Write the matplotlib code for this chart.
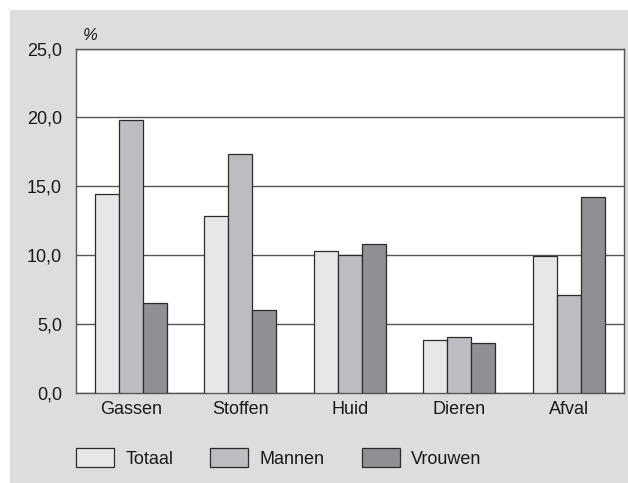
import matplotlib.pyplot as plt
from matplotlib.patches import Rectangle, Patch
import numpy as np

plt.rcParams['font.family'] = ['Liberation Sans', 'DejaVu Sans']

categorieen = ['Gassen', 'Stoffen', 'Huid', 'Dieren', 'Afval']
reeksen = ['Totaal', 'Mannen', 'Vrouwen']
totaal = [14.4, 12.8, 10.3, 3.8, 9.9]
mannen = [19.8, 17.3, 10.0, 4.0, 7.1]
vrouwen = [6.5, 6.0, 10.8, 3.6, 14.2]
kleuren = ['#e6e7e9', '#bcbdc0', '#8f9094']
yticks = [0, 5, 10, 15, 20, 25]

fig = plt.figure(figsize=(6.28, 4.83), dpi=100)
# grijze achtergrond, achter de assen
fig.patches.append(Rectangle((10 / 628, 0), 1, 1 - 10 / 483, transform=fig.transFigure,
                             facecolor='#dcdddf', edgecolor='none', zorder=-10))

ax = fig.add_axes([76 / 628, 1 - 392.5 / 483, (623.5 - 76) / 628, (392.5 - 48.5) / 483])
ax.set_facecolor('white')

x = np.arange(len(categorieen))
w = 0.219
for i, (vals, kl) in enumerate(zip([totaal, mannen, vrouwen], kleuren)):
    ax.bar(x + (i - 1) * w, vals, w, color=kl, edgecolor='#2b2b2b', linewidth=0.9, zorder=3)

ax.set_ylim(0, 25)
ax.set_xlim(-0.5, 4.5)
ax.set_yticks(yticks)
ax.set_yticklabels([f'{v:.1f}'.replace('.', ',') for v in yticks], fontsize=13)
ax.set_xticks(x)
ax.set_xticklabels(categorieen, fontsize=13)
ax.tick_params(axis='both', length=0, colors='#1a1a1a')
ax.tick_params(axis='y', pad=10)
ax.tick_params(axis='x', pad=6)
ax.yaxis.grid(True, color='#555555', linewidth=1.0, zorder=1)
ax.set_axisbelow(True)
for s in ax.spines.values():
    s.set_color('#555555')
    s.set_linewidth(1.0)

fig.text(83 / 628, 1 - 35 / 483, '%', fontsize=12, style='italic', ha='left', va='center',
         color='#1a1a1a')

handles = [Patch(facecolor=k, edgecolor='#2b2b2b', linewidth=0.9) for k in kleuren]
fig.legend(handles, reeksen, loc='center left', bbox_to_anchor=(76 / 628, 1 - 458 / 483),
           ncol=3, frameon=False, fontsize=13, handlelength=2.1, handleheight=1.27,
           handletextpad=0.63, columnspacing=2.05, borderpad=0, borderaxespad=0,
           labelcolor='#1a1a1a')

fig.savefig('out.png', dpi=100)
